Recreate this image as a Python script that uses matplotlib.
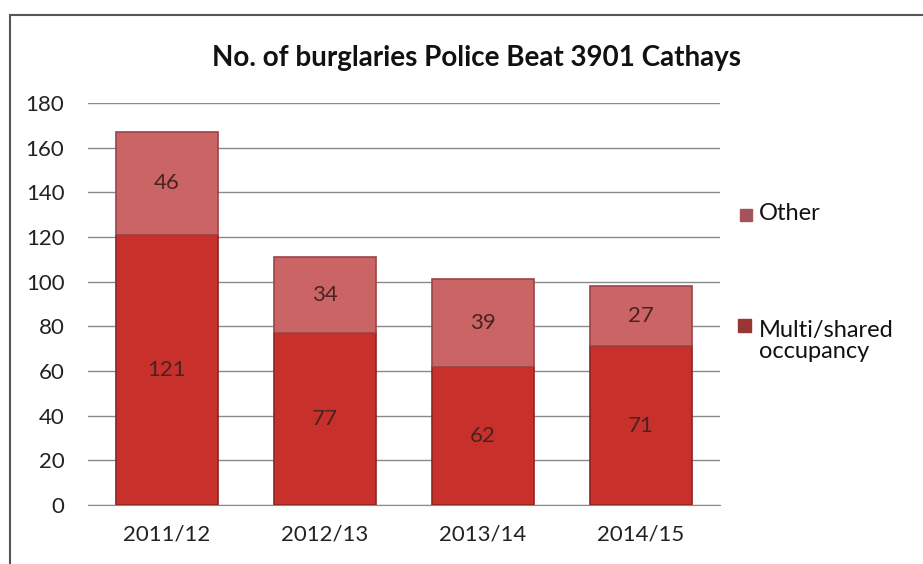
import matplotlib
matplotlib.use("Agg")
import matplotlib.pyplot as plt
from matplotlib.patches import Rectangle

# data
YEARS = ["2011/12", "2012/13", "2013/14", "2014/15"]
MULTI = [121, 77, 62, 71]
OTHER = [46, 34, 39, 27]
YTICKS = [0, 20, 40, 60, 80, 100, 120, 140, 160, 180]

plt.rcParams['font.family'] = ['Lato', 'DejaVu Sans']

FIG = plt.figure(figsize=(9.23, 5.64), dpi=100)
FIG.patch.set_facecolor('white')
# outer chart frame (scanned page, right/bottom edges cut off)
FIG.add_artist(Rectangle((10 / 923, -0.05), 1.2, 1 - 15 / 564 + 0.05,
                         transform=FIG.transFigure, fill=False,
                         edgecolor='#555555', linewidth=1.5))

AX = FIG.add_axes([88 / 923, 1 - 505 / 564, (720 - 88) / 923, (505 - 103) / 564])
X = range(len(YEARS))
B1 = AX.bar(X, MULTI, width=0.65, color='#C8302B', edgecolor='#8E2420',
            linewidth=1.2, zorder=3, label='Multi/shared\noccupancy')
B2 = AX.bar(X, OTHER, bottom=MULTI, width=0.65, color='#CB6464',
            edgecolor='#9A4448', linewidth=1.2, zorder=3, label='Other')

for i in X:
    AX.text(i, MULTI[i] / 2, str(MULTI[i]), ha='center', va='center',
            fontsize=16, color='#4A2222', zorder=4)
    AX.text(i, MULTI[i] + OTHER[i] / 2, str(OTHER[i]), ha='center', va='center',
            fontsize=16, color='#4A2222', zorder=4)

AX.set_xlim(-0.5, 3.5)
AX.set_ylim(0, 180)
AX.set_yticks(YTICKS)
AX.set_xticks(list(X))
AX.set_xticklabels(YEARS)
AX.tick_params(axis='both', length=0, labelsize=16, colors='#222222')
AX.tick_params(axis='x', pad=14)
AX.tick_params(axis='y', pad=17)
AX.yaxis.grid(True, color='#8A8A8A', linewidth=1, zorder=0)
for side in ['top', 'right', 'left']:
    AX.spines[side].set_visible(False)
AX.spines['bottom'].set_color('#8A8A8A')

FIG.text(476 / 923, 1 - 58 / 564, 'No. of burglaries Police Beat 3901 Cathays',
         ha='center', va='center', fontsize=20, fontweight='bold', color='#111111')

# legend, placed by hand like the original
FIG.add_artist(Rectangle((740 / 923, 1 - 221 / 564), 12 / 923, 12 / 564,
                         transform=FIG.transFigure, color='#A5525C'))
FIG.text(759 / 923, 1 - 214 / 564, 'Other', fontsize=17, va='center', color='#111111')
FIG.add_artist(Rectangle((738 / 923, 1 - 332 / 564), 13 / 923, 13 / 564,
                         transform=FIG.transFigure, color='#973634'))
FIG.text(759 / 923, 1 - 341 / 564, 'Multi/shared\noccupancy', fontsize=17,
         va='center', color='#111111', linespacing=1.05)

plt.savefig('out.png', dpi=100)
